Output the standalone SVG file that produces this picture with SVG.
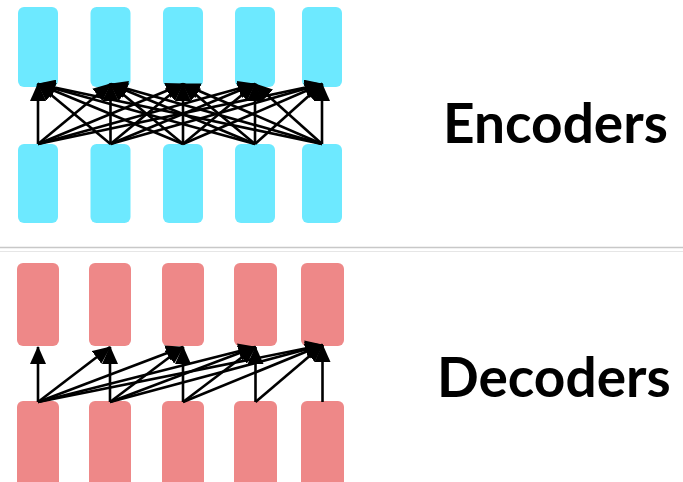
<svg xmlns="http://www.w3.org/2000/svg" width="683" height="482" viewBox="0 0 683 482">
<defs>
<marker id="ah" markerUnits="userSpaceOnUse" viewBox="0 0 18 16" markerWidth="18" markerHeight="16" refX="17" refY="8" orient="auto">
<path d="M0,0 L18,8 L0,16 z" fill="#000"/>
</marker>
<style>
.enc{fill:#6DE9FF}
.dec{fill:#EE8888}
.c line{stroke:#000;stroke-width:2.6;marker-end:url(#ah)}
.lbl{font-family:Lato,"Open Sans","Liberation Sans",sans-serif;font-weight:bold;font-size:55px;fill:#000}
</style>
</defs>
<rect width="683" height="482" fill="#fff"/>
<line x1="0" y1="247.5" x2="683" y2="247.5" stroke="#c8c8c8" stroke-width="1.5"/>
<line x1="0" y1="251.5" x2="683" y2="251.5" stroke="#e6e6e6" stroke-width="1.2"/>
<g id="encoder-top">
<rect class="enc" x="18" y="7" width="40" height="80" rx="6"/>
<rect class="enc" x="90.5" y="7" width="40" height="80" rx="6"/>
<rect class="enc" x="163" y="7" width="40" height="80" rx="6"/>
<rect class="enc" x="235" y="7" width="40" height="80" rx="6"/>
<rect class="enc" x="302" y="7" width="40" height="80" rx="6"/>
</g>
<g id="encoder-bottom">
<rect class="enc" x="18" y="144" width="40" height="79" rx="6"/>
<rect class="enc" x="90.5" y="144" width="40" height="79" rx="6"/>
<rect class="enc" x="163" y="144" width="40" height="79" rx="6"/>
<rect class="enc" x="235" y="144" width="40" height="79" rx="6"/>
<rect class="enc" x="302" y="144" width="40" height="79" rx="6"/>
</g>
<g id="decoder-top">
<rect class="dec" x="17" y="263" width="42" height="83" rx="6"/>
<rect class="dec" x="89" y="263" width="42" height="83" rx="6"/>
<rect class="dec" x="162" y="263" width="42" height="83" rx="6"/>
<rect class="dec" x="234" y="263" width="43" height="83" rx="6"/>
<rect class="dec" x="301" y="263" width="43" height="83" rx="6"/>
</g>
<g id="decoder-bottom">
<rect class="dec" x="17" y="401" width="42" height="90" rx="6"/>
<rect class="dec" x="89" y="401" width="42" height="90" rx="6"/>
<rect class="dec" x="162" y="401" width="42" height="90" rx="6"/>
<rect class="dec" x="234" y="401" width="43" height="90" rx="6"/>
<rect class="dec" x="301" y="401" width="43" height="90" rx="6"/>
</g>
<g id="connectors" class="c">
<line x1="38" y1="144" x2="38" y2="84"/>
<line x1="38" y1="144" x2="110.5" y2="84"/>
<line x1="38" y1="144" x2="183" y2="84"/>
<line x1="38" y1="144" x2="255" y2="84"/>
<line x1="38" y1="144" x2="322" y2="84"/>
<line x1="110.5" y1="144" x2="38" y2="84"/>
<line x1="110.5" y1="144" x2="110.5" y2="84"/>
<line x1="110.5" y1="144" x2="183" y2="84"/>
<line x1="110.5" y1="144" x2="255" y2="84"/>
<line x1="110.5" y1="144" x2="322" y2="84"/>
<line x1="183" y1="144" x2="38" y2="84"/>
<line x1="183" y1="144" x2="110.5" y2="84"/>
<line x1="183" y1="144" x2="183" y2="84"/>
<line x1="183" y1="144" x2="255" y2="84"/>
<line x1="183" y1="144" x2="322" y2="84"/>
<line x1="255" y1="144" x2="38" y2="84"/>
<line x1="255" y1="144" x2="110.5" y2="84"/>
<line x1="255" y1="144" x2="183" y2="84"/>
<line x1="255" y1="144" x2="255" y2="84"/>
<line x1="255" y1="144" x2="322" y2="84"/>
<line x1="322" y1="144" x2="38" y2="84"/>
<line x1="322" y1="144" x2="110.5" y2="84"/>
<line x1="322" y1="144" x2="183" y2="84"/>
<line x1="322" y1="144" x2="255" y2="84"/>
<line x1="322" y1="144" x2="322" y2="84"/>
<line x1="38" y1="402" x2="38" y2="347"/>
<line x1="38" y1="402" x2="110" y2="347"/>
<line x1="38" y1="402" x2="183" y2="347"/>
<line x1="38" y1="402" x2="255.5" y2="347"/>
<line x1="38" y1="402" x2="322.5" y2="345"/>
<line x1="110" y1="402" x2="110" y2="347"/>
<line x1="110" y1="402" x2="183" y2="347"/>
<line x1="110" y1="402" x2="255.5" y2="347"/>
<line x1="110" y1="402" x2="322.5" y2="345"/>
<line x1="183" y1="402" x2="183" y2="347"/>
<line x1="183" y1="402" x2="255.5" y2="347"/>
<line x1="183" y1="402" x2="322.5" y2="345"/>
<line x1="255.5" y1="402" x2="255.5" y2="347"/>
<line x1="255.5" y1="402" x2="322.5" y2="345"/>
<line x1="322.5" y1="402" x2="322.5" y2="345"/>
</g>
<g id="labels">
<text class="lbl" x="443" y="143">Encoders</text>
<text class="lbl" x="437" y="397">Decoders</text>
</g>
</svg>
